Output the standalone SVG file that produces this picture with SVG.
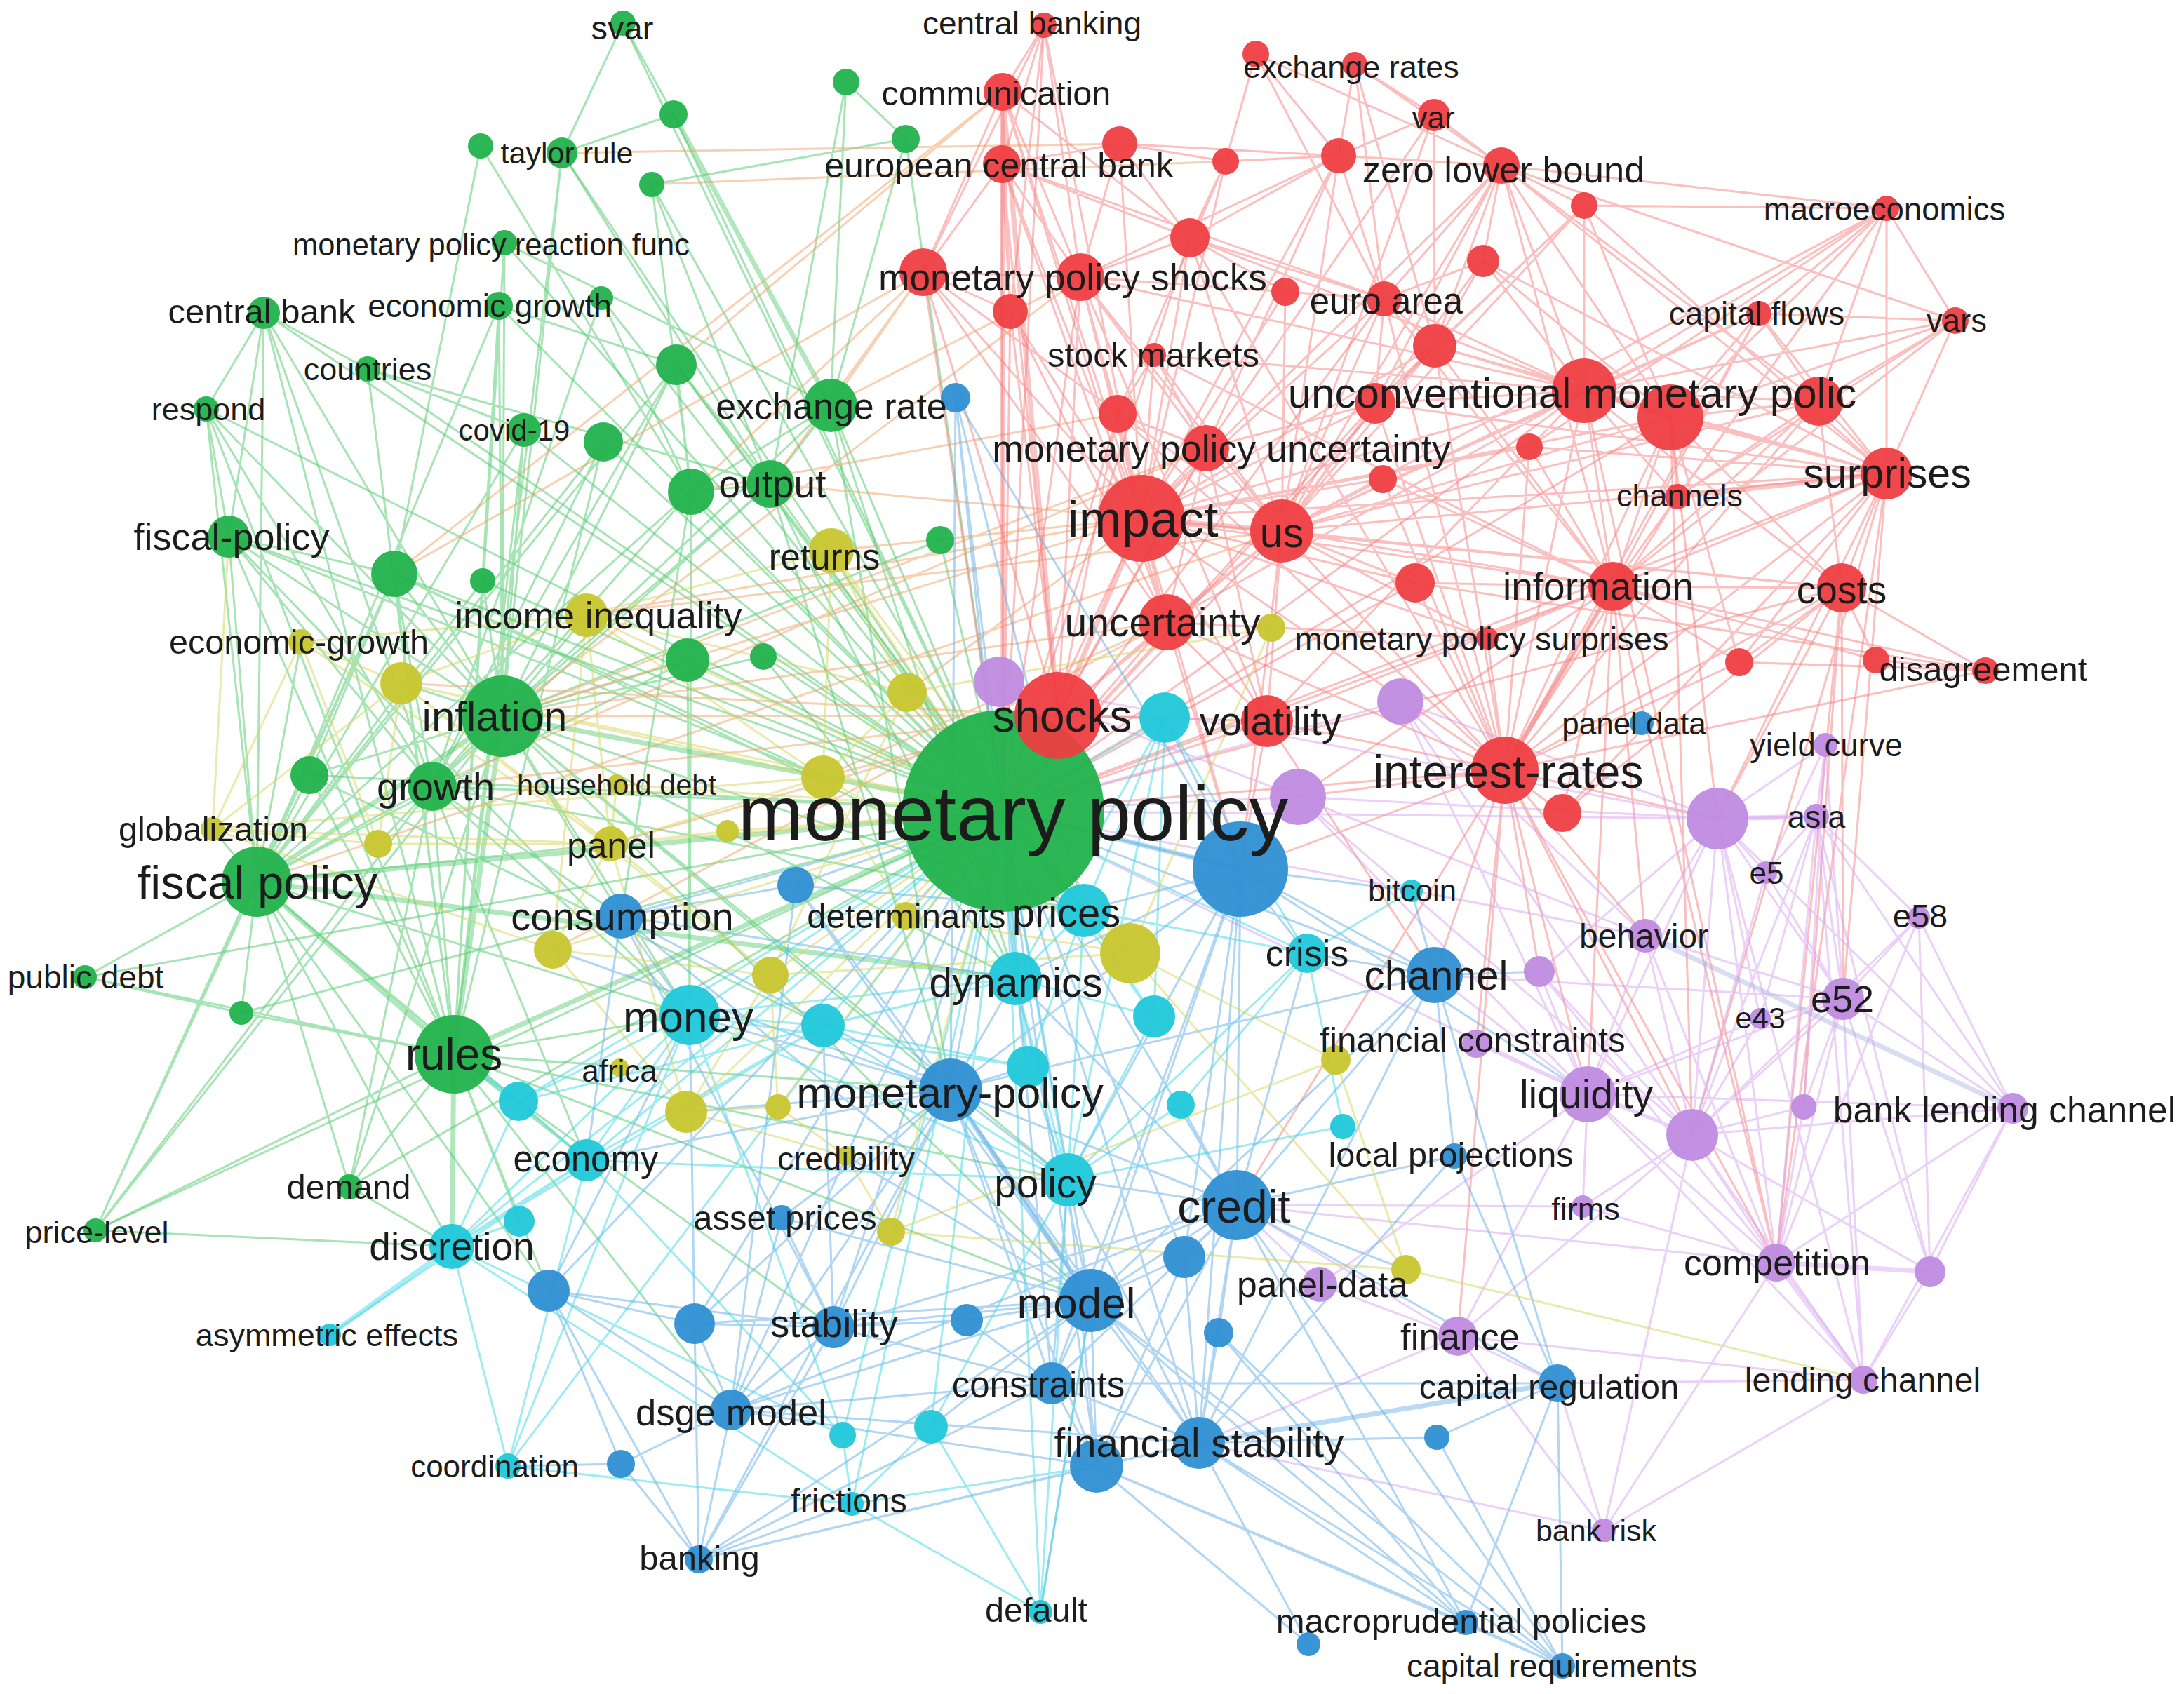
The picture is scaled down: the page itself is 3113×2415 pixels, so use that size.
<svg xmlns="http://www.w3.org/2000/svg" width="3113" height="2415" viewBox="0 0 3113 2415">
<style>
.e{fill:none;stroke-linecap:round;stroke-width:3;stroke-opacity:.5}
.th{stroke-width:7;stroke-opacity:.45}
.eg{stroke:#4fc96c}
.er{stroke:#f57f7f}
.eb{stroke:#62aee8}
.ec{stroke:#40d8e6}
.ey{stroke:#d6d65e}
.ep{stroke:#d7a2f0}
.eo{stroke:#f0a46a}
.ex{stroke:#aab4e0}
.G circle{fill:#22b24c;fill-opacity:.95}
.R circle{fill:#ef3b3f;fill-opacity:.93}
.B circle{fill:#2f8fd3;fill-opacity:.95}
.C circle{fill:#20c8da;fill-opacity:.95}
.Y circle{fill:#c8c62f;fill-opacity:.95}
.P circle{fill:#c08be0;fill-opacity:.95}
text{font-family:"Liberation Sans",Arial,sans-serif;text-anchor:middle;dominant-baseline:central;fill:#1c1c1c}
</style>
<rect width="3113" height="2415" fill="#ffffff"/>
<g id="connectors">
<path class="e eg" d="M1430 1156L888 33M1430 1156L960 163M1430 1156L801 218M1430 1156L929 263M1430 1156L719 346M1430 1156L711 436M1430 1156L857 425M1430 1156L747 613M1430 1156L964 520M1430 1156L860 630M1430 1156L1184 578M1430 1156L1098 690M1430 1156L985 701M1430 1156L1340 770M1430 1156L326 765M1430 1156L562 818M1430 1156L688 828M1430 1156L441 1105M1430 1156L616 1121M1430 1156L121 1393M1430 1156L136 1754M1430 1156L498 1692M1430 1156L1291 198M1430 1156L980 941M1430 1156L1088 936M1430 1156L376 446M1430 1156L524 526M1430 1156L294 583M1430 1156L344 1444"/>
<path class="e eg" d="M888 33L801 218M888 33L960 163M960 163L801 218M801 218L716 1021M801 218L647 1503M801 218L1098 690M685 208L562 818M685 208L985 701M929 263L1291 198M929 263L985 701M929 263L1098 690M719 346L716 1021M719 346L1184 578M719 346L647 1503M376 446L294 583M376 446L326 765M376 446L366 1257M376 446L716 1021M376 446L647 1503M376 446L524 526M376 446L616 1121M711 436L366 1257M711 436L964 520M711 436L716 1021M711 436L647 1503M857 425L616 1121M857 425L985 701M524 526L747 613M524 526L647 1503M524 526L1098 690M294 583L326 765M294 583L366 1257M294 583L647 1503M294 583L716 1021M294 583L616 1121M747 613L647 1503M747 613L366 1257M747 613L716 1021M964 520L716 1021M964 520L1098 690M964 520L985 701M964 520L366 1257M964 520L616 1121M860 630L616 1121M860 630L366 1257M860 630L647 1503M1184 578L1098 690M1184 578L716 1021M1184 578L985 701M1098 690L716 1021M1098 690L985 701M1098 690L616 1121M985 701L616 1121M985 701L366 1257M326 765L366 1257M326 765L716 1021M326 765L562 818M326 765L616 1121M326 765L647 1503M562 818L716 1021M562 818L616 1121M562 818L647 1503M562 818L441 1105M562 818L366 1257M716 1021L616 1121M716 1021L441 1105M441 1105L366 1257M441 1105L647 1503M616 1121L647 1503M616 1121L366 1257M366 1257L121 1393M366 1257L344 1444M366 1257L136 1754M366 1257L498 1692M121 1393L647 1503M121 1393L344 1444M344 1444L647 1503M647 1503L136 1754M647 1503L498 1692M136 1754L716 1021M136 1754L616 1121M136 1754L562 818M498 1692L716 1021M498 1692L616 1121M1206 117L1291 198M1206 117L1098 690M1206 117L1184 578M1291 198L1184 578M980 941L716 1021M980 941L366 1257M1088 936L716 1021M688 828L716 1021M688 828L366 1257M1340 770L716 1021M716 1021L983 1447M716 1021L836 877M647 1503L739 1570M647 1503L836 1654M366 1257L303 1182M366 1257L429 915M366 1257L983 1447M647 1503L782 1840M647 1503L740 1741M716 1021L572 974M616 1121L539 1203M136 1754L644 1777M498 1692L644 1777M716 1021L1545 1298M647 1503L983 1447M647 1503L1355 1554M716 1021L1355 1554M366 1257L870 1203M616 1121L885 1306M716 1021L885 1306M985 701L983 1447M716 1021L1447 1395M616 1121L983 1447M366 1257L836 1654M647 1503L1522 1682M647 1503L1188 1892M647 1503L1042 2010M366 1257L782 1840M716 1021L1522 1682M616 1121L1545 1298M562 818L1545 1298M1098 690L1447 1395M985 701L885 1306M980 941L983 1447M1088 936L1447 1395M964 520L1545 1298M1184 578L1447 1395M1184 578L1355 1554M1098 690L1355 1554M716 1021L1555 1854M647 1503L1555 1854M366 1257L644 1777M366 1257L739 1570M616 1121L836 1654M326 765L983 1447M441 1105L1173 1462M562 818L1173 1108M326 765L1173 1108"/>
<path class="e eg th" d="M1430 1156L716 1021M1430 1156L366 1257M1430 1156L647 1503M960 163L1184 578M716 1021L366 1257M716 1021L647 1503M366 1257L647 1503M366 1257L1447 1395M647 1503L644 1777"/>
<path class="e eo" d="M801 218L1596 205M716 1021L1508 1020M1098 690L1627 739M1184 578L1316 388M1508 1020L1173 1108M1627 739L716 1021M1316 388L1098 690M1316 388L985 701M1508 1020L616 1121M1663 887L716 1021M1719 639L716 1021M1540 395L1184 578M1429 131L562 818M1627 739L836 877M1827 757L366 1257M924 263L1747 230M1316 388L562 818M1540 395L716 1021M1627 739L1293 987M1627 739L1185 785M1663 887L1173 1108M1508 1020L572 974M1719 639L616 1121M1827 757L836 877M1593 590L985 701M1429 131L964 520M1508 1020L870 1203M1663 887L788 1354"/>
<path class="e er" d="M1430 1156L1627 739M1430 1156L1663 887M1430 1156L1719 639M1430 1156L1316 388M1430 1156L1540 395M1430 1156L1428 234M1430 1156L2145 1098M1430 1156L1806 1028M1430 1156L1827 757M1430 1156L2299 836M1430 1156L2258 557M1430 1156L1440 444M1430 1156L1593 590M1430 1156L2017 831M1430 1156L1488 36M1430 1156L2689 675M1430 1156L1696 339M1430 1156L1973 426M1430 1156L2045 493M1430 1156L1960 575M1430 1156L2381 595M1430 1156L2625 838"/>
<path class="e er" d="M1488 36L1429 131M1488 36L1428 234M1488 36L1316 388M1488 36L1540 395M1488 36L1627 739M1488 36L1440 444M1429 131L1428 234M1429 131L1316 388M1429 131L1540 395M1429 131L1440 444M1429 131L1627 739M1429 131L1696 339M1429 131L1663 887M1428 234L1316 388M1428 234L1540 395M1428 234L1440 444M1428 234L1596 205M1428 234L1508 1020M1428 234L1663 887M1428 234L1627 739M1428 234L1696 339M1428 234L1973 426M1596 205L1747 230M1596 205L1540 395M1596 205L1696 339M1596 205L1627 739M1596 205L1908 222M1747 230L1790 77M1747 230L1908 222M1747 230L1696 339M1747 230L1593 590M1747 230L1627 739M1790 77L1908 222M1790 77L1973 426M1790 77L2140 236M1931 92L1908 222M1931 92L2140 236M1931 92L2044 164M1931 92L1973 426M1931 92L2045 493M2044 164L1908 222M2044 164L2140 236M2044 164L1827 757M2044 164L2045 493M2044 164L1719 639M1908 222L1540 395M1908 222L1973 426M1908 222L2140 236M1908 222L1696 339M1908 222L1627 739M1908 222L1827 757M1908 222L1719 639M2140 236L2258 293M2140 236L2689 297M2140 236L1973 426M2140 236L2045 493M2140 236L2258 557M2140 236L2381 595M2140 236L1827 757M2140 236L1627 739M2140 236L2114 372M2140 236L2689 675M2140 236L1960 575M2140 236L2299 836M2140 236L2592 572M2258 293L2258 557M2258 293L2689 675M2258 293L1960 575M2258 293L2045 493M2258 293L1827 757M2258 293L2381 595M2689 297L2507 447M2689 297L2787 457M2689 297L2258 557M2689 297L2381 595M2689 297L2592 572M2689 297L2689 675M2689 297L2299 836M2689 297L1827 757M2689 297L2180 637M2689 297L2391 708M2689 297L2258 293M2507 447L2787 457M2507 447L2258 557M2507 447L2592 572M2507 447L2689 675M2507 447L2381 595M2507 447L2299 836M2507 447L1827 757M2507 447L2145 1098M2787 457L2592 572M2787 457L2689 675M2787 457L2381 595M2787 457L2299 836M2787 457L2258 557M2787 457L2391 708M2787 457L2140 236M1316 388L1540 395M1316 388L1440 444M1316 388L1627 739M1316 388L1508 1020M1316 388L1663 887M1316 388L1827 757M1540 395L1696 339M1540 395L1627 739M1540 395L1827 757M1540 395L1973 426M1540 395L1719 639M1540 395L2258 557M1540 395L1663 887M1540 395L1508 1020M1540 395L1593 590M1540 395L1806 1028M1440 444L1627 739M1440 444L1508 1020M1440 444L1663 887M1696 339L1973 426M1696 339L1627 739M1696 339L1832 416M1696 339L1827 757M1696 339L2258 557M1832 416L1973 426M1832 416L1627 739M1832 416L1827 757M1973 426L2114 372M1973 426L2045 493M1973 426L2258 557M1973 426L1960 575M1973 426L1627 739M1973 426L1827 757M1973 426L2299 836M1973 426L2145 1098M2114 372L2045 493M2114 372L2258 557M2114 372L2381 595M2114 372L1827 757M2045 493L2258 557M2045 493L1960 575M2045 493L1627 739M2045 493L1827 757M2045 493L2689 675M2045 493L2299 836M1645 506L1627 739M1645 506L1593 590M1645 506L1719 639M1645 506L1827 757M1645 506L2258 557M1593 590L1627 739M1593 590L1719 639M1593 590L1508 1020M2258 557L2381 595M2258 557L2592 572M2258 557L1627 739M2258 557L1827 757M2258 557L2689 675M2258 557L2299 836M2258 557L2145 1098M2258 557L1960 575M2258 557L2625 838M2258 557L1663 887M2258 557L1806 1028M1960 575L1627 739M1960 575L1827 757M1960 575L2145 1098M1960 575L1719 639M2381 595L2592 572M2381 595L2689 675M2381 595L2299 836M2381 595L2625 838M2381 595L2145 1098M2381 595L1827 757M2381 595L1627 739M2381 595L2479 944M2381 595L2391 708M2592 572L2689 675M2592 572L2299 836M2592 572L2625 838M2592 572L2145 1098M2592 572L1827 757M2592 572L2391 708M2180 637L2299 836M2180 637L2145 1098M2180 637L1627 739M1971 683L1627 739M1971 683L1827 757M1971 683L2145 1098M1719 639L1627 739M1719 639L1827 757M1719 639L1663 887M1719 639L1508 1020M1719 639L1806 1028M1627 739L1663 887M1627 739L1806 1028M1627 739L2145 1098M1627 739L2299 836M1627 739L2017 831M1627 739L2689 675M1627 739L2120 910M1627 739L2625 838M1827 757L2145 1098M1827 757L2299 836M1827 757L1663 887M1827 757L1806 1028M1827 757L2689 675M1827 757L2625 838M1827 757L1508 1020M1827 757L2017 831M1827 757L2120 910M2689 675L2299 836M2689 675L2625 838M2689 675L2145 1098M2689 675L2479 944M2689 675L2227 1159M2391 708L2258 557M2391 708L2145 1098M2391 708L2299 836M2017 831L2145 1098M2017 831L2299 836M2299 836L2625 838M2299 836L2145 1098M2299 836L2479 944M2299 836L2674 941M2299 836L2830 956M2299 836L2227 1159M2299 836L1806 1028M2625 838L2145 1098M2625 838L2674 941M2625 838L2830 956M2625 838L2479 944M2625 838L2227 1159M1663 887L1508 1020M1663 887L1806 1028M1663 887L2145 1098M2479 944L2830 956M2479 944L2145 1098M2674 941L2830 956M2830 956L2145 1098M2830 956L2017 831M1508 1020L1806 1028M1806 1028L2145 1098M2145 1098L2227 1159M2120 910L2145 1098M2120 910L2299 836M2120 910L1663 887M1971 683L2299 836M1960 575L2689 675M2180 637L2689 675M2114 372L2689 675M2045 493L2145 1098M1696 339L2145 1098M1593 590L2145 1098M1645 506L2299 836"/>
<path class="e er th" d="M1627 739L1827 757M1627 739L1508 1020M1429 131L1508 1020M1430 1156L1429 131M2689 675L2391 708M2258 557L2381 595M2145 1098L2299 836"/>
<path class="e er" d="M2145 1098L2448 1167M2145 1098L2345 1334M2145 1098L2263 1560M2145 1098L1768 1239M2145 1098L2045 1390M1627 739L1768 1239M1508 1020L1660 1023M2625 838L2448 1167M2689 675L2448 1167M2689 675L2627 1424M2625 838L2532 1800M2299 836L2263 1560M2145 1098L2412 1618M2381 595L2412 1618M2258 557L2532 1800M2689 675L2412 1618M2299 836L2532 1800M2145 1098L2532 1800M2145 1098L1763 1718M2145 1098L2078 1905M1827 757L1768 1239M1663 887L1768 1239M1806 1028L1768 1239M2625 838L2627 1424M2145 1098L1850 1136M2299 836L2345 1334M2625 838L2571 1578M2689 675L2532 1800M2145 1098L2194 1385M1806 1028L2045 1390M2145 1098L2104 1488M2299 836L1850 1136M2381 595L2448 1167"/>
<path class="e ep" d="M1430 1156L1424 972M1430 1156L1850 1136M1430 1156L2263 1560M1430 1156L2448 1167M1430 1156L1996 1000M1430 1156L2345 1334M2602 1062L2448 1167M2602 1062L2589 1164M2602 1062L2627 1424M2602 1062L2571 1578M2602 1062L2517 1244M2448 1167L2589 1164M2448 1167L2517 1244M2448 1167L2345 1334M2448 1167L2627 1424M2448 1167L2263 1560M2448 1167L2412 1618M2448 1167L2532 1800M2448 1167L2194 1385M2448 1167L1850 1136M2448 1167L1996 1000M2448 1167L2509 1452M2448 1167L2656 1967M2448 1167L2869 1580M2589 1164L2517 1244M2589 1164L2735 1308M2589 1164L2627 1424M2589 1164L2509 1452M2589 1164L2869 1580M2589 1164L2412 1618M2589 1164L2532 1800M2589 1164L2751 1813M2589 1164L2656 1967M2517 1244L2627 1424M2517 1244L2412 1618M2735 1308L2627 1424M2735 1308L2412 1618M2735 1308L2532 1800M2735 1308L2869 1580M2735 1308L2751 1813M2345 1334L2263 1560M2345 1334L2627 1424M2345 1334L2412 1618M2345 1334L2532 1800M2194 1385L2263 1560M2194 1385L2412 1618M2194 1385L2532 1800M2627 1424L2509 1452M2627 1424L2263 1560M2627 1424L2571 1578M2627 1424L2412 1618M2627 1424L2532 1800M2627 1424L2656 1967M2627 1424L2751 1813M2627 1424L2869 1580M2509 1452L2412 1618M2509 1452L2263 1560M2263 1560L2412 1618M2263 1560L2532 1800M2263 1560L2078 1905M2263 1560L2869 1580M2263 1560L2256 1720M2263 1560L2656 1967M2263 1560L1881 1831M2571 1578L2412 1618M2571 1578L2532 1800M2869 1580L2532 1800M2869 1580L2751 1813M2869 1580L2412 1618M2869 1580L2656 1967M2412 1618L2532 1800M2412 1618L2656 1967M2412 1618L2078 1905M2412 1618L2751 1813M2412 1618L2256 1720M2256 1720L2532 1800M2751 1813L2656 1967M2656 1967L2286 2182M2656 1967L2078 1905M2286 2182L2532 1800M2286 2182L2078 1905M2286 2182L2412 1618M2078 1905L1881 1831M1881 1831L2263 1560M1850 1136L2263 1560M1424 972L1850 1136M1850 1136L2345 1334M1996 1000L2345 1334M2104 1488L2263 1560M1996 1000L2263 1560M1996 1000L2448 1167M2104 1488L2412 1618M2412 1618L1996 1000M2078 1905L2220 1972M1881 1831L1763 1718M2286 2182L1709 2057M2263 1560L2045 1390M2078 1905L1763 1718M2256 1720L1763 1718M2286 2182L2220 1972M2263 1560L1850 1136M2412 1618L1850 1136M2532 1800L2263 1560M2448 1167L1424 972M2627 1424L2045 1390M2532 1800L1763 1718M2078 1905L1709 2057M2656 1967L2220 1972"/>
<path class="e ep th" d="M2532 1800L2751 1813M2532 1800L2656 1967M2448 1167L2589 1164"/>
<path class="e ex th" d="M2345 1334L2869 1580"/>
<path class="e eb" d="M1430 1156L1768 1239M1430 1156L1355 1554M1430 1156L1763 1718M1430 1156L1555 1854M1430 1156L1709 2057M1430 1156L2045 1390M1430 1156L885 1306M1430 1156L1188 1892M1430 1156L1499 1972M1430 1156L1042 2010M1430 1156L1134 1262M1430 1156L1362 567M1430 1156L782 1840M1430 1156L990 1887M1430 1156L1563 2090M1430 1156L1688 1792M1362 567L1768 1239M1362 567L1545 1298M1362 567L1355 1554M1362 567L1447 1395M1768 1239L2045 1390M1768 1239L1355 1554M1768 1239L1763 1718M1768 1239L1545 1298M1768 1239L1863 1359M1768 1239L1447 1395M1768 1239L1555 1854M1768 1239L1709 2057M1768 1239L1660 1023M1768 1239L2012 1270M1768 1239L1688 1792M1768 1239L1522 1682M1768 1239L1499 1972M2045 1390L1763 1718M2045 1390L1863 1359M2045 1390L2012 1270M2045 1390L1355 1554M2045 1390L1555 1854M2045 1390L2220 1972M2045 1390L2073 1648M2045 1390L1709 2057M885 1306L983 1447M885 1306L1355 1554M885 1306L1134 1262M885 1306L1555 1854M885 1306L1188 1892M885 1306L836 1654M1134 1262L1355 1554M1134 1262L1555 1854M1134 1262L1042 2010M1355 1554L1763 1718M1355 1554L1555 1854M1355 1554L1709 2057M1355 1554L1447 1395M1355 1554L983 1447M1355 1554L1522 1682M1355 1554L1188 1892M1355 1554L1499 1972M1355 1554L1465 1521M1355 1554L1042 2010M1355 1554L990 1887M1355 1554L996 2223M1355 1554L1563 2090M1355 1554L836 1654M1763 1718L1688 1792M1763 1718L1555 1854M1763 1718L1737 1900M1763 1718L1709 2057M1763 1718L1563 2090M1763 1718L2220 1972M1763 1718L1522 1682M1763 1718L1499 1972M1763 1718L2073 1648M1763 1718L1863 1359M1763 1718L2089 2313M1763 1718L2227 2375M1763 1718L1188 1892M1763 1718L1042 2010M1763 1718L1683 1575M2073 1648L2220 1972M2073 1648L1709 2057M1688 1792L1709 2057M1688 1792L1555 1854M1688 1792L1563 2090M1555 1854L1709 2057M1555 1854L1563 2090M1555 1854L1499 1972M1555 1854L1188 1892M1555 1854L1378 1882M1555 1854L990 1887M1555 1854L1327 2034M1555 1854L996 2223M1555 1854L1042 2010M1555 1854L2227 2375M1555 1854L2089 2313M1555 1854L1483 2298M1737 1900L1709 2057M1737 1900L2089 2313M1737 1900L2227 2375M1709 2057L1563 2090M1709 2057L2089 2313M1709 2057L2227 2375M1709 2057L1865 2344M1709 2057L1499 1972M1709 2057L1042 2010M1709 2057L996 2223M1709 2057L2048 2049M1563 2090L1499 1972M1563 2090L1042 2010M1563 2090L996 2223M1563 2090L2089 2313M1563 2090L2227 2375M2220 1972L2227 2375M2220 1972L2048 2049M2220 1972L2089 2313M2220 1972L1499 1972M2048 2049L2227 2375M2089 2313L2227 2375M1865 2344L1563 2090M782 1840L1042 2010M782 1840L990 1887M782 1840L996 2223M782 1840L1188 1892M782 1840L885 2087M990 1887L1042 2010M990 1887L1188 1892M990 1887L996 2223M1188 1892L1042 2010M1188 1892L1499 1972M1188 1892L996 2223M1188 1892L1378 1882M1378 1882L1499 1972M1499 1972L1042 2010M1499 1972L996 2223M1042 2010L996 2223M1042 2010L885 2087M885 2087L996 2223M885 2087L724 2090M1114 1736L1188 1892M1114 1736L1355 1554M1114 1736L1042 2010M1114 1736L1555 1854M996 2223L1214 2144M996 2223L1563 2090M996 2223L1499 1972M1768 1239L1611 1359M1763 1718L1447 1395M1555 1854L1447 1395M1709 2057L1522 1682M1355 1554L788 1354M1355 1554L978 1585M1555 1854L1206 1648M1499 1972L1522 1682M1188 1892L1173 1462M990 1887L983 1447M782 1840L983 1447M1563 2090L1522 1682M885 1306L1447 1395M1134 1262L1545 1298M1768 1239L2263 1560M2045 1390L2194 1385M1763 1718L2004 1810"/>
<path class="e eb th" d="M1709 2057L2220 1972M1430 1156L1768 1239M1355 1554L1555 1854"/>
<path class="e ec" d="M1430 1156L1545 1298M1430 1156L1447 1395M1430 1156L983 1447M1430 1156L1522 1682M1430 1156L836 1654M1430 1156L644 1777M1430 1156L1660 1023M1430 1156L1863 1359M1430 1156L1465 1521M1430 1156L1645 1449M1430 1156L1173 1462M1430 1156L739 1570M1430 1156L1327 2034M1430 1156L1201 2046M1430 1156L1214 2144M1430 1156L724 2090M1430 1156L1483 2298M1660 1023L1545 1298M1660 1023L1863 1359M1660 1023L1447 1395M1660 1023L1522 1682M1545 1298L1447 1395M1545 1298L1465 1521M1545 1298L1522 1682M1545 1298L1645 1449M1447 1395L1465 1521M1447 1395L1522 1682M1447 1395L983 1447M1447 1395L1173 1462M983 1447L1173 1462M983 1447L739 1570M983 1447L836 1654M983 1447L644 1777M983 1447L1522 1682M983 1447L724 2090M983 1447L1201 2046M1173 1462L1465 1521M1173 1462L836 1654M1465 1521L1522 1682M1645 1449L1522 1682M1683 1575L1522 1682M1914 1606L1522 1682M1914 1606L1863 1359M739 1570L644 1777M739 1570L836 1654M740 1741L644 1777M836 1654L644 1777M836 1654L1522 1682M836 1654L1201 2046M836 1654L724 2090M644 1777L724 2090M644 1777L1201 2046M644 1777L1214 2144M724 2090L1214 2144M1201 2046L1214 2144M1327 2034L1214 2144M1214 2144L1483 2298M1327 2034L1522 1682M1483 2298L1522 1682M1483 2298L1327 2034M2012 1270L1863 1359M1863 1359L1522 1682M470 1903L836 1654M1214 2144L1563 2090M1483 2298L1555 1854M1522 1682L1645 1449M1545 1298L1863 1359M1447 1395L1645 1449M983 1447L1465 1521M1173 1462L1522 1682M836 1654L1173 1462M644 1777L1173 1462M739 1570L1447 1395M1660 1023L1645 1449M1863 1359L1683 1575"/>
<path class="e ec th" d="M644 1777L470 1903M1430 1156L1545 1298M647 1503L739 1570"/>
<path class="e ey" d="M1430 1156L836 877M1430 1156L1173 1108M1430 1156L1293 987M1430 1156L1611 1359M1430 1156L1185 785M1430 1156L572 974M1430 1156L870 1203M1430 1156L788 1354M1430 1156L1098 1390M1430 1156L978 1585M1430 1156L1291 1306M1430 1156L1037 1185M1430 1156L879 1118M1430 1156L1109 1578M1430 1156L1270 1756M836 877L429 915M836 877L572 974M836 877L1173 1108M836 877L1185 785M836 877L870 1203M836 877L1293 987M429 915L303 1182M429 915L539 1203M429 915L572 974M429 915L870 1203M572 974L539 1203M572 974L1173 1108M572 974L870 1203M303 1182L539 1203M303 1182L1173 1108M303 1182L870 1203M303 1182L788 1354M303 1182L572 974M539 1203L870 1203M879 1118L870 1203M1173 1108L1293 987M1173 1108L1185 785M1173 1108L870 1203M1173 1108L1611 1359M870 1203L788 1354M870 1203L1098 1390M870 1203L1037 1185M1293 987L1611 1359M1293 987L1185 785M1293 987L1812 895M1185 785L1611 1359M788 1354L1098 1390M788 1354L978 1585M1098 1390L978 1585M1098 1390L1109 1578M978 1585L1109 1578M978 1585L1206 1648M1109 1578L1206 1648M1206 1648L1270 1756M1270 1756L2004 1810M1270 1756L1904 1511M1611 1359L1904 1511M1611 1359L2004 1810M1812 895L1611 1359M1904 1511L2004 1810M2004 1810L2656 1967M1291 1306L1611 1359M1291 1306L1173 1108M303 1182L326 765M836 877L788 1354M572 974L1098 1390M1185 785L1173 1108M1293 987L1098 1390M1611 1359L1098 1390M870 1203L978 1585"/>
</g>
<g id="nodes">
<g id="n-g3" class="G"><circle cx="960" cy="163" r="20"/></g>
<g id="n-g5" class="G"><circle cx="685" cy="208" r="18"/></g>
<g id="n-g6" class="G"><circle cx="929" cy="263" r="18"/></g>
<g id="n-g10" class="G"><circle cx="857" cy="425" r="17"/></g>
<g id="n-g14" class="G"><circle cx="964" cy="520" r="29"/></g>
<g id="n-g15" class="G"><circle cx="860" cy="630" r="28"/></g>
<g id="n-g18" class="G"><circle cx="985" cy="701" r="33"/></g>
<g id="n-g19" class="G"><circle cx="1340" cy="770" r="20"/></g>
<g id="n-g21" class="G"><circle cx="562" cy="818" r="33"/></g>
<g id="n-g22" class="G"><circle cx="688" cy="828" r="18"/></g>
<g id="n-g24" class="G"><circle cx="441" cy="1105" r="27"/></g>
<g id="n-g28" class="G"><circle cx="344" cy="1444" r="17"/></g>
<g id="n-g32" class="G"><circle cx="1206" cy="117" r="19"/></g>
<g id="n-g33" class="G"><circle cx="1291" cy="198" r="20"/></g>
<g id="n-g34" class="G"><circle cx="980" cy="941" r="31"/></g>
<g id="n-g35" class="G"><circle cx="1088" cy="936" r="19"/></g>
<g id="n-y3" class="Y"><circle cx="572" cy="974" r="30"/></g>
<g id="n-y5" class="Y"><circle cx="539" cy="1203" r="20"/></g>
<g id="n-y7" class="Y"><circle cx="1173" cy="1108" r="31"/></g>
<g id="n-y9" class="Y"><circle cx="1037" cy="1185" r="16"/></g>
<g id="n-y10" class="Y"><circle cx="1293" cy="987" r="28"/></g>
<g id="n-y12" class="Y"><circle cx="788" cy="1354" r="27"/></g>
<g id="n-y13" class="Y"><circle cx="1098" cy="1390" r="26"/></g>
<g id="n-y14" class="Y"><circle cx="978" cy="1585" r="30"/></g>
<g id="n-y15" class="Y"><circle cx="1109" cy="1578" r="18"/></g>
<g id="n-y17" class="Y"><circle cx="1270" cy="1756" r="20"/></g>
<g id="n-y18" class="Y"><circle cx="1611" cy="1359" r="43"/></g>
<g id="n-y19" class="Y"><circle cx="1812" cy="895" r="20"/></g>
<g id="n-y20" class="Y"><circle cx="1904" cy="1511" r="21"/></g>
<g id="n-y21" class="Y"><circle cx="2004" cy="1810" r="21"/></g>
<g id="n-r4" class="R"><circle cx="1596" cy="205" r="25"/></g>
<g id="n-r5" class="R"><circle cx="1747" cy="230" r="19"/></g>
<g id="n-r6" class="R"><circle cx="1790" cy="77" r="19"/></g>
<g id="n-r9" class="R"><circle cx="1908" cy="222" r="25"/></g>
<g id="n-r11" class="R"><circle cx="2258" cy="293" r="19"/></g>
<g id="n-r15" class="R"><circle cx="1316" cy="388" r="34"/></g>
<g id="n-r17" class="R"><circle cx="1440" cy="444" r="25"/></g>
<g id="n-r18" class="R"><circle cx="1696" cy="339" r="28"/></g>
<g id="n-r19" class="R"><circle cx="1832" cy="416" r="20"/></g>
<g id="n-r21" class="R"><circle cx="2114" cy="372" r="23"/></g>
<g id="n-r22" class="R"><circle cx="2045" cy="493" r="31"/></g>
<g id="n-r24" class="R"><circle cx="1593" cy="590" r="27"/></g>
<g id="n-r26" class="R"><circle cx="1960" cy="575" r="29"/></g>
<g id="n-r27" class="R"><circle cx="2381" cy="595" r="47"/></g>
<g id="n-r28" class="R"><circle cx="2592" cy="572" r="35"/></g>
<g id="n-r29" class="R"><circle cx="2180" cy="637" r="19"/></g>
<g id="n-r30" class="R"><circle cx="1971" cy="683" r="20"/></g>
<g id="n-r36" class="R"><circle cx="2017" cy="831" r="28"/></g>
<g id="n-r40" class="R"><circle cx="2479" cy="944" r="20"/></g>
<g id="n-r41" class="R"><circle cx="2674" cy="941" r="19"/></g>
<g id="n-r46" class="R"><circle cx="2227" cy="1159" r="27"/></g>
<g id="n-p1" class="P"><circle cx="1424" cy="972" r="36"/></g>
<g id="n-p2" class="P"><circle cx="1996" cy="1000" r="33"/></g>
<g id="n-p3" class="P"><circle cx="1850" cy="1136" r="40"/></g>
<g id="n-p5" class="P"><circle cx="2448" cy="1167" r="44"/></g>
<g id="n-p10" class="P"><circle cx="2194" cy="1385" r="22"/></g>
<g id="n-p15" class="P"><circle cx="2571" cy="1578" r="18"/></g>
<g id="n-p17" class="P"><circle cx="2412" cy="1618" r="37"/></g>
<g id="n-p20" class="P"><circle cx="2751" cy="1813" r="22"/></g>
<g id="n-b1" class="B"><circle cx="1362" cy="567" r="21"/></g>
<g id="n-b3" class="B"><circle cx="1768" cy="1239" r="68"/></g>
<g id="n-b6" class="B"><circle cx="1134" cy="1262" r="26"/></g>
<g id="n-b10" class="B"><circle cx="1688" cy="1792" r="30"/></g>
<g id="n-b12" class="B"><circle cx="1737" cy="1900" r="21"/></g>
<g id="n-b14" class="B"><circle cx="1563" cy="2090" r="38"/></g>
<g id="n-b16" class="B"><circle cx="2048" cy="2049" r="18"/></g>
<g id="n-b18" class="B"><circle cx="1865" cy="2344" r="17"/></g>
<g id="n-b20" class="B"><circle cx="782" cy="1840" r="30"/></g>
<g id="n-b21" class="B"><circle cx="990" cy="1887" r="29"/></g>
<g id="n-b23" class="B"><circle cx="1378" cy="1882" r="23"/></g>
<g id="n-b26" class="B"><circle cx="885" cy="2087" r="20"/></g>
<g id="n-c1" class="C"><circle cx="1660" cy="1023" r="36"/></g>
<g id="n-c7" class="C"><circle cx="1173" cy="1462" r="31"/></g>
<g id="n-c8" class="C"><circle cx="1465" cy="1521" r="30"/></g>
<g id="n-c9" class="C"><circle cx="1645" cy="1449" r="30"/></g>
<g id="n-c10" class="C"><circle cx="1683" cy="1575" r="20"/></g>
<g id="n-c11" class="C"><circle cx="1914" cy="1606" r="18"/></g>
<g id="n-c12" class="C"><circle cx="739" cy="1570" r="28"/></g>
<g id="n-c13" class="C"><circle cx="740" cy="1741" r="22"/></g>
<g id="n-c19" class="C"><circle cx="1201" cy="2046" r="19"/></g>
<g id="n-c20" class="C"><circle cx="1327" cy="2034" r="24"/></g>
<g id="n-monetary-policy" class="G"><circle cx="1430" cy="1156" r="144"/><text x="1444" y="1159" font-size="112">monetary policy</text></g>
<g id="n-household-debt" class="Y"><circle cx="879" cy="1118" r="14"/><text x="879" y="1118" font-size="41.5">household debt</text></g>
<g id="n-africa" class="Y"><circle cx="883" cy="1522" r="13"/><text x="883" y="1526" font-size="44">africa</text></g>
<g id="n-credibility" class="Y"><circle cx="1206" cy="1648" r="14"/><text x="1206" y="1651" font-size="47">credibility</text></g>
<g id="n-monetary-policy-surprises" class="R"><circle cx="2120" cy="910" r="16"/><text x="2112" y="910" font-size="47">monetary policy surprises</text></g>
<g id="n-e43" class="P"><circle cx="2509" cy="1452" r="15"/><text x="2509" y="1451" font-size="43">e43</text></g>
<g id="n-e5" class="P"><circle cx="2517" cy="1244" r="16"/><text x="2518" y="1244" font-size="44">e5</text></g>
<g id="n-e58" class="P"><circle cx="2735" cy="1308" r="16"/><text x="2737" y="1305" font-size="47">e58</text></g>
<g id="n-bitcoin" class="C"><circle cx="2012" cy="1270" r="16"/><text x="2013" y="1270" font-size="43.6">bitcoin</text></g>
<g id="n-firms" class="P"><circle cx="2256" cy="1720" r="16"/><text x="2260" y="1723" font-size="45">firms</text></g>
<g id="n-asymmetric-effects" class="C"><circle cx="470" cy="1903" r="16"/><text x="466" y="1903" font-size="45">asymmetric effects</text></g>
<g id="n-public-debt" class="G"><circle cx="121" cy="1393" r="17"/><text x="122" y="1393" font-size="46">public debt</text></g>
<g id="n-price-level" class="G"><circle cx="136" cy="1754" r="17"/><text x="138" y="1756" font-size="45">price-level</text></g>
<g id="n-globalization" class="Y"><circle cx="303" cy="1182" r="17"/><text x="304" y="1182" font-size="48.6">globalization</text></g>
<g id="n-stock-markets" class="R"><circle cx="1645" cy="506" r="17"/><text x="1644" y="506" font-size="49">stock markets</text></g>
<g id="n-panel-data" class="B"><circle cx="2340" cy="1031" r="17"/><text x="2329" y="1031" font-size="44">panel data</text></g>
<g id="n-yield-curve" class="P"><circle cx="2602" cy="1062" r="17"/><text x="2603" y="1062" font-size="45.6">yield curve</text></g>
<g id="n-bank-risk" class="P"><circle cx="2286" cy="2182" r="17"/><text x="2275" y="2182" font-size="43">bank risk</text></g>
<g id="n-frictions" class="C"><circle cx="1214" cy="2144" r="17"/><text x="1210" y="2139" font-size="48">frictions</text></g>
<g id="n-default" class="C"><circle cx="1483" cy="2298" r="17"/><text x="1477" y="2295" font-size="48.7">default</text></g>
<g id="n-svar" class="G"><circle cx="888" cy="33" r="18"/><text x="887" y="39" font-size="47">svar</text></g>
<g id="n-monetary-policy-reaction-func" class="G"><circle cx="719" cy="346" r="18"/><text x="700" y="349" font-size="43.5">monetary policy reaction func</text></g>
<g id="n-countries" class="G"><circle cx="524" cy="526" r="18"/><text x="524" y="526" font-size="45">countries</text></g>
<g id="n-respond" class="G"><circle cx="294" cy="583" r="18"/><text x="297" y="583" font-size="45">respond</text></g>
<g id="n-demand" class="G"><circle cx="498" cy="1692" r="18"/><text x="497" y="1692" font-size="49">demand</text></g>
<g id="n-economic-growth-y" class="Y"><circle cx="429" cy="915" r="18"/><text x="426" y="915" font-size="48.6">economic-growth</text></g>
<g id="n-central-banking" class="R"><circle cx="1488" cy="36" r="18"/><text x="1471" y="33" font-size="46">central banking</text></g>
<g id="n-exchange-rates" class="R"><circle cx="1931" cy="92" r="18"/><text x="1926" y="95" font-size="45">exchange rates</text></g>
<g id="n-macroeconomics" class="R"><circle cx="2689" cy="297" r="18"/><text x="2686" y="298" font-size="45.6">macroeconomics</text></g>
<g id="n-capital-flows" class="R"><circle cx="2507" cy="447" r="18"/><text x="2504" y="447" font-size="46">capital flows</text></g>
<g id="n-channels" class="R"><circle cx="2391" cy="708" r="18"/><text x="2394" y="706" font-size="45">channels</text></g>
<g id="n-asia" class="P"><circle cx="2589" cy="1164" r="18"/><text x="2589" y="1164" font-size="45">asia</text></g>
<g id="n-local-projections" class="B"><circle cx="2073" cy="1648" r="18"/><text x="2068" y="1646" font-size="48.7">local projections</text></g>
<g id="n-macroprudential-policies" class="B"><circle cx="2089" cy="2313" r="18"/><text x="2083" y="2311" font-size="49">macroprudential policies</text></g>
<g id="n-capital-requirements" class="B"><circle cx="2227" cy="2375" r="18"/><text x="2212" y="2375" font-size="46">capital requirements</text></g>
<g id="n-asset-prices" class="B"><circle cx="1114" cy="1736" r="18"/><text x="1119" y="1736" font-size="49">asset prices</text></g>
<g id="n-coordination" class="C"><circle cx="724" cy="2090" r="18"/><text x="705" y="2090" font-size="44">coordination</text></g>
<g id="n-vars" class="R"><circle cx="2787" cy="457" r="19"/><text x="2789" y="457" font-size="45.5">vars</text></g>
<g id="n-disagreement" class="R"><circle cx="2830" cy="956" r="19"/><text x="2827" y="954" font-size="49">disagreement</text></g>
<g id="n-economic-growth" class="G"><circle cx="711" cy="436" r="20"/><text x="698" y="436" font-size="46">economic growth</text></g>
<g id="n-determinants" class="Y"><circle cx="1291" cy="1306" r="20"/><text x="1292" y="1306" font-size="49">determinants</text></g>
<g id="n-financial-constraints" class="P"><circle cx="2104" cy="1488" r="20"/><text x="2099" y="1483" font-size="49.6">financial constraints</text></g>
<g id="n-lending-channel" class="P"><circle cx="2656" cy="1967" r="20"/><text x="2655" y="1967" font-size="48">lending channel</text></g>
<g id="n-banking" class="B"><circle cx="996" cy="2223" r="20"/><text x="997" y="2221" font-size="49">banking</text></g>
<g id="n-taylor-rule" class="G"><circle cx="801" cy="218" r="22"/><text x="808" y="218" font-size="43">taylor rule</text></g>
<g id="n-bank-lending-channel" class="P"><circle cx="2869" cy="1580" r="22"/><text x="2857" y="1582" font-size="51.7">bank lending channel</text></g>
<g id="n-var" class="R"><circle cx="2044" cy="164" r="23"/><text x="2043" y="167" font-size="44">var</text></g>
<g id="n-covid-19" class="G"><circle cx="747" cy="613" r="24"/><text x="733" y="613" font-size="42">covid-19</text></g>
<g id="n-panel" class="Y"><circle cx="870" cy="1203" r="25"/><text x="871" y="1205" font-size="51.5">panel</text></g>
<g id="n-euro-area" class="R"><circle cx="1973" cy="426" r="25"/><text x="1976" y="429" font-size="51">euro area</text></g>
<g id="n-behavior" class="P"><circle cx="2345" cy="1334" r="24"/><text x="2343" y="1334" font-size="48">behavior</text></g>
<g id="n-panel-data-p" class="P"><circle cx="1881" cy="1831" r="25"/><text x="1885" y="1831" font-size="51.6">panel-data</text></g>
<g id="n-zero-lower-bound" class="R"><circle cx="2140" cy="236" r="26"/><text x="2143" y="241" font-size="52.5">zero lower bound</text></g>
<g id="n-communication" class="R"><circle cx="1429" cy="131" r="27"/><text x="1420" y="133" font-size="48.6">communication</text></g>
<g id="n-european-central-bank" class="R"><circle cx="1428" cy="234" r="27"/><text x="1424" y="236" font-size="50">european central bank</text></g>
<g id="n-capital-regulation" class="B"><circle cx="2220" cy="1972" r="27"/><text x="2208" y="1977" font-size="49">capital regulation</text></g>
<g id="n-competition" class="P"><circle cx="2532" cy="1800" r="27"/><text x="2533" y="1800" font-size="52">competition</text></g>
<g id="n-crisis" class="C"><circle cx="1863" cy="1359" r="28"/><text x="1863" y="1359" font-size="52">crisis</text></g>
<g id="n-finance" class="P"><circle cx="2078" cy="1905" r="28"/><text x="2081" y="1905" font-size="52.7">finance</text></g>
<g id="n-dsge-model" class="B"><circle cx="1042" cy="2010" r="29"/><text x="1042" y="2013" font-size="52.6">dsge model</text></g>
<g id="n-fiscal-policy-h" class="G"><circle cx="326" cy="765" r="30"/><text x="330" y="765" font-size="54">fiscal-policy</text></g>
<g id="n-e52" class="P"><circle cx="2627" cy="1424" r="30"/><text x="2626" y="1424" font-size="54">e52</text></g>
<g id="n-economy" class="C"><circle cx="836" cy="1654" r="30"/><text x="835" y="1652" font-size="51">economy</text></g>
<g id="n-stability" class="B"><circle cx="1188" cy="1892" r="30"/><text x="1189" y="1887" font-size="54.6">stability</text></g>
<g id="n-constraints" class="B"><circle cx="1499" cy="1972" r="30"/><text x="1480" y="1974" font-size="51">constraints</text></g>
<g id="n-income-inequality" class="Y"><circle cx="836" cy="877" r="31"/><text x="853" y="877" font-size="53">income inequality</text></g>
<g id="n-returns" class="Y"><circle cx="1185" cy="785" r="32"/><text x="1175" y="794" font-size="51">returns</text></g>
<g id="n-consumption" class="B"><circle cx="885" cy="1306" r="32"/><text x="887" y="1306" font-size="56">consumption</text></g>
<g id="n-discretion" class="C"><circle cx="644" cy="1777" r="32"/><text x="644" y="1777" font-size="55">discretion</text></g>
<g id="n-monetary-policy-uncertainty" class="R"><circle cx="1719" cy="639" r="33"/><text x="1741" y="639" font-size="53.7">monetary policy uncertainty</text></g>
<g id="n-output" class="G"><circle cx="1098" cy="690" r="34"/><text x="1101" y="690" font-size="55">output</text></g>
<g id="n-monetary-policy-shocks" class="R"><circle cx="1540" cy="395" r="34"/><text x="1529" y="395" font-size="53.3">monetary policy shocks</text></g>
<g id="n-growth" class="G"><circle cx="616" cy="1121" r="35"/><text x="621" y="1121" font-size="56">growth</text></g>
<g id="n-information" class="R"><circle cx="2299" cy="836" r="35"/><text x="2278" y="836" font-size="55">information</text></g>
<g id="n-costs" class="R"><circle cx="2625" cy="838" r="35"/><text x="2625" y="841" font-size="55">costs</text></g>
<g id="n-surprises" class="R"><circle cx="2689" cy="675" r="37"/><text x="2690" y="675" font-size="59">surprises</text></g>
<g id="n-volatility" class="R"><circle cx="1806" cy="1028" r="37"/><text x="1811" y="1028" font-size="57">volatility</text></g>
<g id="n-financial-stability" class="B"><circle cx="1709" cy="2057" r="37"/><text x="1709" y="2057" font-size="56.7">financial stability</text></g>
<g id="n-exchange-rate" class="G"><circle cx="1184" cy="578" r="38"/><text x="1185" y="579" font-size="52">exchange rate</text></g>
<g id="n-prices" class="C"><circle cx="1545" cy="1298" r="38"/><text x="1520" y="1300" font-size="58">prices</text></g>
<g id="n-dynamics" class="C"><circle cx="1447" cy="1395" r="38"/><text x="1448" y="1400" font-size="58.5">dynamics</text></g>
<g id="n-policy" class="C"><circle cx="1522" cy="1682" r="38"/><text x="1490" y="1687" font-size="57">policy</text></g>
<g id="n-uncertainty" class="R"><circle cx="1663" cy="887" r="40"/><text x="1657" y="887" font-size="57">uncertainty</text></g>
<g id="n-channel" class="B"><circle cx="2045" cy="1390" r="40"/><text x="2047" y="1390" font-size="58.5">channel</text></g>
<g id="n-liquidity" class="P"><circle cx="2263" cy="1560" r="40"/><text x="2261" y="1560" font-size="57">liquidity</text></g>
<g id="n-money" class="C"><circle cx="983" cy="1447" r="43"/><text x="981" y="1449" font-size="62">money</text></g>
<g id="n-us" class="R"><circle cx="1827" cy="757" r="45"/><text x="1827" y="760" font-size="59">us</text></g>
<g id="n-monetary-policy-h" class="B"><circle cx="1355" cy="1554" r="45"/><text x="1354" y="1557" font-size="62">monetary-policy</text></g>
<g id="n-model" class="B"><circle cx="1555" cy="1854" r="45"/><text x="1534" y="1857" font-size="62">model</text></g>
<g id="n-unconventional" class="R"><circle cx="2258" cy="557" r="46"/><text x="2241" y="560" font-size="60">unconventional monetary polic</text></g>
<g id="n-interest-rates" class="R"><circle cx="2145" cy="1098" r="48"/><text x="2150" y="1100" font-size="66">interest-rates</text></g>
<g id="n-credit" class="B"><circle cx="1763" cy="1718" r="50"/><text x="1759" y="1720" font-size="66">credit</text></g>
<g id="n-fiscal-policy" class="G"><circle cx="366" cy="1257" r="50"/><text x="367" y="1257" font-size="67">fiscal policy</text></g>
<g id="n-rules" class="G"><circle cx="647" cy="1503" r="56"/><text x="647" y="1503" font-size="64">rules</text></g>
<g id="n-inflation" class="G"><circle cx="716" cy="1021" r="58"/><text x="705" y="1021" font-size="60">inflation</text></g>
<g id="n-impact" class="R"><circle cx="1627" cy="739" r="62"/><text x="1629" y="739" font-size="73">impact</text></g>
<g id="n-shocks" class="R"><circle cx="1508" cy="1020" r="62"/><text x="1514" y="1021" font-size="64">shocks</text></g>
<g id="n-central-bank" class="G"><circle cx="376" cy="446" r="23"/><text x="373" y="444" font-size="49">central bank</text></g>
</g>
</svg>
